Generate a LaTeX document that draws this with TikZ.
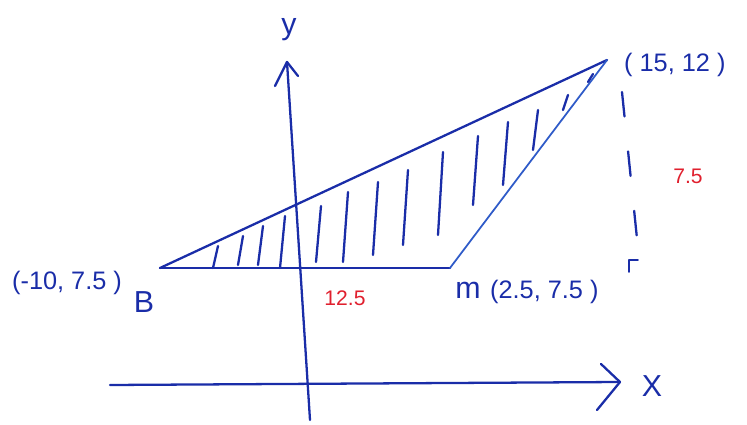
\documentclass[tikz,border=0pt]{standalone}
\usepackage{fontspec}
\setmainfont{Liberation Sans}
\definecolor{ink}{HTML}{1A2DA8}
\definecolor{inkl}{HTML}{2F5BC8}
\definecolor{redink}{HTML}{E0202E}
\begin{document}
\begin{tikzpicture}[x=0.02cm,y=-0.02cm,
  pen/.style={draw=ink,line width=1.3pt,line cap=round,line join=round},
  lab/.style={text=ink,font=\Large},
  rlab/.style={text=redink,font=\large}]
\useasboundingbox (0,0) rectangle (747,425);
% axes
\coordinate (ybot) at (310,420);
\coordinate (ytop) at (287,62);
\coordinate (xl) at (110,385);
\coordinate (xr) at (620,382);
\draw[pen] (ybot) -- (ytop);
\draw[pen] (275,86) -- (ytop) -- (298,76);
\draw[pen] (xl) -- (xr);
\draw[pen] (601,364) -- (xr) -- (597,410);
\node[text=ink,font=\LARGE] (ylab) at (289,30) {y};
\node[text=ink,font=\LARGE] (xlab) at (652,386) {X};
% triangle
\coordinate (B) at (160,268);
\coordinate (M) at (450,268);
\coordinate (C) at (607,60);
\draw[pen] (B) -- (C);
\draw[pen] (B) -- (M);
\draw[draw=inkl,line width=1pt,line cap=round] (M) -- (C);
% hatching
\foreach \x/\a/\b in {215/268/246,240/265/236,260/265/226,282/268/216,318/262/206,345/262/192,375/255/182,405/245/170,440/235/152,475/205/136,505/185/122,535/150/110,565/110/95,590/82/74}
  \draw[pen] (\x-2,\a) -- (\x+3,\b);
% dashed height
\coordinate (Cd) at (622,92);
\coordinate (Hd) at (640,268);
\draw[pen,dash pattern=on 14pt off 20pt] (Cd) -- (Hd);
\draw[pen,line width=1pt] (629,272) -- (629,260) -- (638,260);
% labels
\node[lab,anchor=west] (Blab) at (6,283) {(-10, 7.5 )};
\node[text=ink,font=\LARGE] (Bname) at (144,302) {B};
\node[text=ink,font=\LARGE] (Mname) at (468,290) {m};
\node[lab,anchor=west] (Mlab) at (484,292) {(2.5, 7.5 )};
\node[lab,anchor=west] (Clab) at (618,65) {( 15, 12 )};
\node[rlab] (h) at (688,176) {7.5};
\node[rlab] (w) at (345,298) {12.5};
\end{tikzpicture}
\end{document}
